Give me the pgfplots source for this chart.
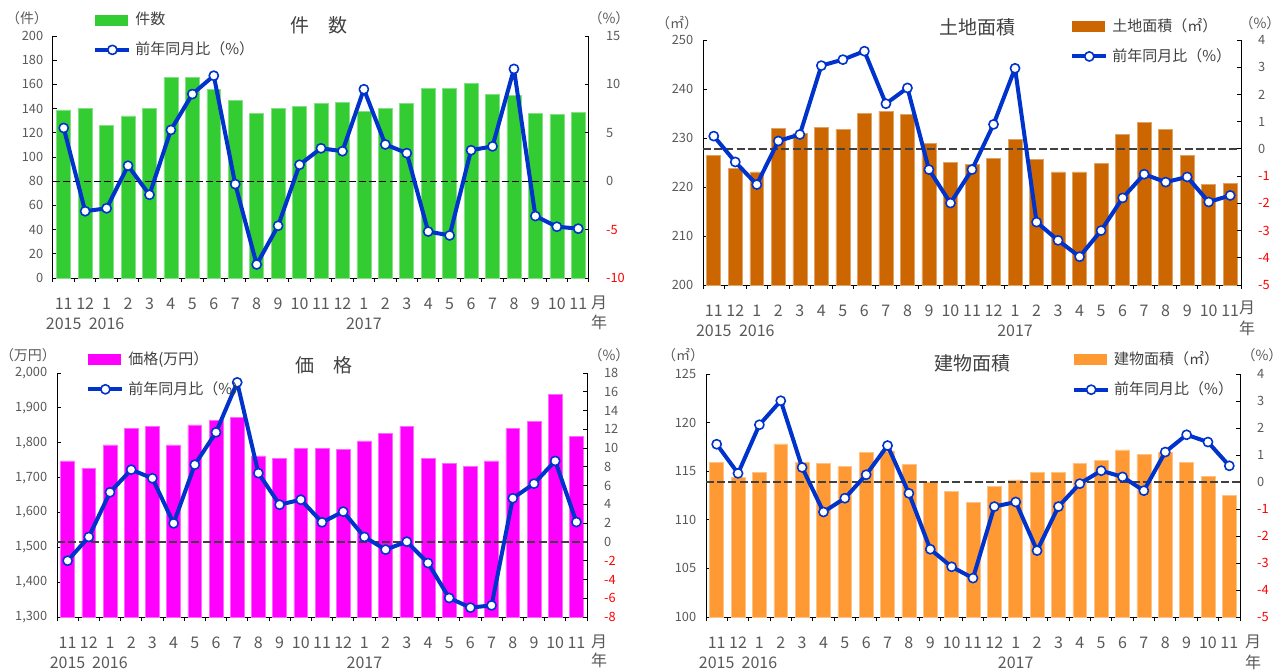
\documentclass[border=0pt]{standalone}
\usepackage{fontspec}
\setmainfont{Noto Sans CJK JP}
\usepackage{pgfplots}
\pgfplotsset{compat=1.18}
\usepackage{pgfplotstable}

\definecolor{tickgray}{HTML}{595959}
\definecolor{titlegray}{HTML}{404040}
\definecolor{lineblue}{HTML}{0033CC}
\definecolor{bgreen}{HTML}{33CC33}
\definecolor{bbrown}{HTML}{CC6600}
\definecolor{bmag}{HTML}{FF00FF}
\definecolor{borange}{HTML}{FF9933}

% x: 0 = 2015/11 ... 24 = 2017/11 ; v = bar value ; p = 前年同月比
\pgfplotstableread{
x v p
0 139 5.5
1 140 -3.1
2 126 -2.8
3 134 1.6
4 140 -1.4
5 166 5.3
6 166 9.0
7 156 10.9
8 147 -0.3
9 136 -8.6
10 140 -4.6
11 142 1.7
12 144 3.4
13 145 3.1
14 138 9.5
15 140 3.8
16 144 2.9
17 157 -5.2
18 157 -5.6
19 161 3.2
20 152 3.6
21 151 11.6
22 136 -3.6
23 135 -4.7
24 137 -4.9
}\kensu

\pgfplotstableread{
x v p
0 226.4 0.47
1 223.8 -0.48
2 223.1 -1.31
3 232.0 0.29
4 231.0 0.53
5 232.2 3.06
6 231.8 3.28
7 235.0 3.59
8 235.5 1.66
9 234.8 2.24
10 228.9 -0.76
11 225.1 -1.99
12 224.6 -0.76
13 225.9 0.90
14 229.7 2.96
15 225.6 -2.69
16 223.1 -3.36
17 223.1 -3.96
18 224.8 -3.00
19 230.7 -1.80
20 233.2 -0.93
21 231.7 -1.22
22 226.4 -1.03
23 220.5 -1.95
24 220.8 -1.71
}\tochi

\pgfplotstableread{
x v p
0 1748 -2.0
1 1727 0.53
2 1794 5.29
3 1840 7.70
4 1848 6.78
5 1794 1.98
6 1851 8.23
7 1865 11.68
8 1873 17.0
9 1762 7.33
10 1755 3.97
11 1783 4.50
12 1783 2.09
13 1780 3.23
14 1805 0.53
15 1826 -0.82
16 1848 0.03
17 1754 -2.25
18 1740 -5.97
19 1733 -7.0
20 1748 -6.76
21 1840 4.65
22 1862 6.21
23 1938 8.63
24 1819 2.12
}\kakaku

\pgfplotstableread{
x v p
0 115.9 1.40
1 114.4 0.32
2 114.9 2.12
3 117.8 3.01
4 115.9 0.54
5 115.8 -1.11
6 115.5 -0.60
7 116.9 0.27
8 117.1 1.35
9 115.7 -0.42
10 113.9 -2.49
11 112.9 -3.14
12 111.8 -3.56
13 113.4 -0.91
14 114.1 -0.74
15 114.9 -2.54
16 114.9 -0.91
17 115.8 -0.06
18 116.1 0.42
19 117.2 0.19
20 116.7 -0.32
21 116.9 1.11
22 115.9 1.75
23 114.5 1.48
24 112.5 0.60
}\tatemono

\pgfplotsset{
  monthaxis/.style={
    scale only axis, xmin=-0.5, xmax=24.5,
    xtick={0,...,24}, major x tick style={draw=none},
    minor xtick={-0.5,0.5,...,24.5},
    tick align=inside, major tick length=2pt, minor tick length=2pt,
    axis line style={black, line width=0.5pt},
    tick style={black, line width=0.5pt},
  },
  barax/.style={monthaxis, ybar, bar width=0.65,
    axis x line*=bottom, axis y line*=left,
    scaled y ticks=false,
    /pgf/number format/assume math mode=true,
    yticklabel style={font=\fontsize{6.4}{7}\selectfont, text=tickgray, xshift=-1.4pt},
    xticklabels={{11\\2015},12,{1\\2016},2,3,4,5,6,7,8,9,10,11,12,{1\\2017},2,3,4,5,6,7,8,9,10,11},
    xticklabel style={font=\fontsize{8}{10}\selectfont, text=tickgray, align=center, yshift=-4.5pt},
  },
  pctax/.style={monthaxis, axis x line=none, axis y line*=right,
    yticklabel style={font=\fontsize{6.4}{7}\selectfont, text=tickgray, xshift=5pt},
    legend cell align=left,
    legend style={draw=none, fill=none, inner sep=0pt, row sep=3pt, anchor=north west,
      font=\fontsize{7.5}{9}\selectfont, text=titlegray},
  },
  pctline/.style={lineblue, line width=2pt, line join=round, mark=*, mark size=2.3pt,
    mark options={fill=white, draw=lineblue, line width=0.8pt},
    legend image code/.code={\draw[mark repeat=2,mark phase=2,##1] plot coordinates {(0pt,0pt) (8.5pt,0pt) (17pt,0pt)};}},
  zeroline/.style={black, line width=0.6pt, dash pattern=on 3.5pt off 1.6pt, forget plot},
}
\newcommand{\barleg}[1]{\addlegendimage{legend image code/.code={\fill[#1] (0pt,-2.5pt) rectangle (16pt,2.5pt);}}}

\begin{document}
\begin{tikzpicture}
\useasboundingbox (0,0) rectangle (641pt,-335.5pt);

% ---- 件数 ----
\begin{axis}[barax, at={(26.5pt,-139pt)}, anchor=south west, width=268pt, height=121pt,
  ymin=0, ymax=200, ytick distance=20]
  \addplot[fill=bgreen, draw=bgreen!60!white, line width=0.3pt] table[x=x,y=v]{\kensu};
\end{axis}
\begin{axis}[pctax, at={(26.5pt,-139pt)}, anchor=south west, width=268pt, height=121pt,
  ymin=-10, ymax=15, ytick={-10,-5,0,5,10,15},
  yticklabels={{\color{red}-10},{\color{red}-5},0,5,10,15},
  legend style={at={(0.0746,1.116)}}]
  \barleg{bgreen}
  \addlegendentry{件数}
  \addplot[zeroline] coordinates {(-0.5,0) (24.5,0)};
  \addplot[pctline] table[x=x,y=p]{\kensu};
  \addlegendentry{前年同月比（\%）}
\end{axis}

% ---- 土地面積 ----
\begin{axis}[barax, at={(351.5pt,-142.5pt)}, anchor=south west, width=269pt, height=122.5pt,
  ymin=200, ymax=250, ytick distance=10]
  \addplot[fill=bbrown, draw=bbrown!60!white, line width=0.3pt] table[x=x,y=v]{\tochi};
\end{axis}
\begin{axis}[pctax, at={(351.5pt,-142.5pt)}, anchor=south west, width=269pt, height=122.5pt,
  ymin=-5, ymax=4, ytick={-5,...,4},
  yticklabels={{\color{red}-5},{\color{red}-4},{\color{red}-3},{\color{red}-2},{\color{red}-1},0,1,2,3,4},
  legend style={at={(0.682,1.106)}}]
  \barleg{bbrown}
  \addlegendentry{土地面積（㎡）}
  \addplot[zeroline, color=titlegray, line width=0.8pt, dash pattern=on 4pt off 1.6pt] coordinates {(-0.5,0) (24.5,0)};
  \addplot[pctline] table[x=x,y=p]{\tochi};
  \addlegendentry{前年同月比（\%）}
\end{axis}

% ---- 価格 ----
\begin{axis}[barax, at={(28.5pt,-308.5pt)}, anchor=south west, width=265pt, height=122pt,
  ymin=1300, ymax=2000, ytick distance=100]
  \addplot[fill=bmag, draw=bmag!60!white, line width=0.3pt] table[x=x,y=v]{\kakaku};
\end{axis}
\begin{axis}[pctax, at={(28.5pt,-308.5pt)}, anchor=south west, width=265pt, height=122pt,
  ymin=-8, ymax=18, ytick={-8,-6,...,18},
  yticklabels={{\color{red}-8},{\color{red}-6},{\color{red}-4},{\color{red}-2},0,2,4,6,8,10,12,14,16,18},
  legend style={at={(0.0547,1.106)}}]
  \barleg{bmag}
  \addlegendentry{価格(万円）}
  \addplot[zeroline, color=titlegray, line width=0.8pt, dash pattern=on 4pt off 1.6pt] coordinates {(-0.5,0) (24.5,0)};
  \addplot[pctline] table[x=x,y=p]{\kakaku};
  \addlegendentry{前年同月比（\%）}
\end{axis}

% ---- 建物面積 ----
\begin{axis}[barax, at={(353pt,-308.5pt)}, anchor=south west, width=267pt, height=121.5pt,
  ymin=100, ymax=125, ytick distance=5]
  \addplot[fill=borange, draw=borange!60!white, line width=0.3pt] table[x=x,y=v]{\tatemono};
\end{axis}
\begin{axis}[pctax, at={(353pt,-308.5pt)}, anchor=south west, width=267pt, height=121.5pt,
  ymin=-5, ymax=4, ytick={-5,...,4},
  yticklabels={{\color{red}-5},{\color{red}-4},{\color{red}-3},{\color{red}-2},{\color{red}-1},0,1,2,3,4},
  legend style={at={(0.685,1.11)}}]
  \barleg{borange}
  \addlegendentry{建物面積（㎡）}
  \addplot[zeroline, color=titlegray, line width=0.8pt, dash pattern=on 4pt off 1.6pt] coordinates {(-0.5,0) (24.5,0)};
  \addplot[pctline] table[x=x,y=p]{\tatemono};
  \addlegendentry{前年同月比（\%）}
\end{axis}

% ---- titles and unit labels (pixel coordinates) ----
\begin{scope}[x=0.5pt, y=-0.5pt]
  \begin{scope}[every node/.style={font=\fontsize{9.5}{11}\selectfont, text=titlegray}]
    \node at (319,25) {件　数};
    \node at (977,27) {土地面積};
    \node at (324,365) {価　格};
    \node at (972,363) {建物面積};
  \end{scope}
  \begin{scope}[every node/.style={font=\fontsize{7}{8}\selectfont, text=tickgray}]
    \node at (27,18) {（件）};
    \node at (609,18) {（\%）};
    \node at (677,23) {（㎡）};
    \node at (1260,23) {（\%）};
    \node at (28,355) {（万円）};
    \node at (609,355) {（\%）};
    \node at (683,355) {（㎡）};
    \node at (1262,355) {（\%）};
  \end{scope}
  \begin{scope}[every node/.style={font=\fontsize{8}{10}\selectfont, text=tickgray}]
    \node at (599,303) {月};
    \node at (599,322) {年};
    \node at (1247,308) {月};
    \node at (1247,328) {年};
    \node at (599,642) {月};
    \node at (599,660) {年};
    \node at (1253,642) {月};
    \node at (1253,662) {年};
  \end{scope}
\end{scope}
\end{tikzpicture}
\end{document}
